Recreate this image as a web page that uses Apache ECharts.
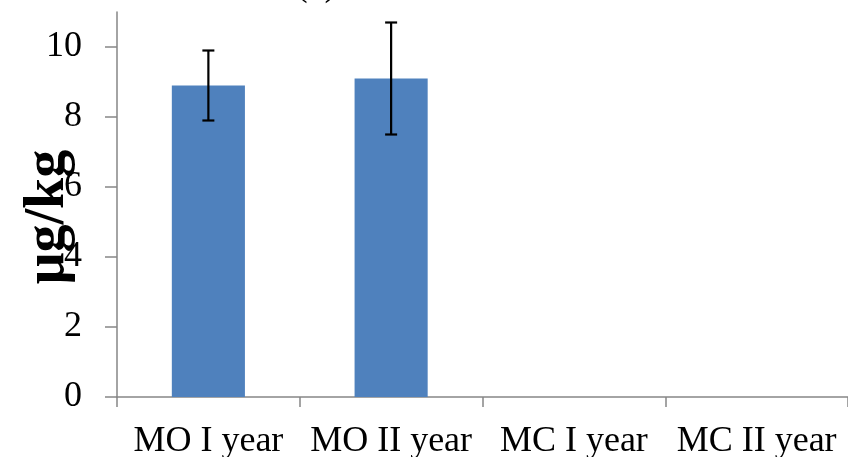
<!DOCTYPE html>
<html><head><meta charset="utf-8">
<script src="https://cdn.jsdelivr.net/npm/echarts@6/dist/echarts.min.js"></script>
<style>html,body{margin:0;padding:0;background:#fff}#c{width:848px;height:457px}</style>
</head><body><div id="c"></div>
<script>
var categories = ['MO I year', 'MO II year', 'MC I year', 'MC II year'];
var values = [8.9, 9.1, 0, 0];
var errors = [1.0, 1.6, 0, 0];
var yTicks = [0, 2, 4, 6, 8, 10];

var chart = echarts.init(document.getElementById('c'));
var serif = '"Liberation Serif", "DejaVu Serif", serif';
var axisColor = '#868686';
chart.setOption({
  animation: false,
  title: {text: '(a)', left: 290, top: -39, textStyle: {fontFamily: serif, fontSize: 38, fontWeight: 'normal', color: '#000'}},
  graphic: [{
    type: 'text', x: 49, y: 217, rotation: Math.PI / 2,
    style: {text: 'μg/kg', fontFamily: serif, fontSize: 56, fontWeight: 'bold', fill: '#000', align: 'center', verticalAlign: 'middle'}
  }],
  grid: {left: 117, right: 0, top: 12, bottom: 60, outerBoundsMode: 'none', containLabel: false},
  xAxis: {
    type: 'category', data: categories, boundaryGap: true,
    axisLine: {lineStyle: {color: axisColor, width: 1.5}},
    axisTick: {show: true, length: 10, alignWithLabel: false, lineStyle: {color: axisColor, width: 1.5}},
    axisLabel: {fontFamily: serif, fontSize: 36, color: '#000', margin: 27, interval: 0}
  },
  yAxis: {
    type: 'value', min: 0, max: 11,
    axisLine: {show: true, lineStyle: {color: axisColor, width: 1.5}},
    axisTick: {show: true, length: 12, customValues: yTicks, lineStyle: {color: axisColor, width: 1.5}},
    axisLabel: {fontFamily: serif, fontSize: 36, color: '#000', margin: 35, customValues: yTicks},
    splitLine: {show: false}
  },
  series: [
    {type: 'bar', data: values, barWidth: '40%', itemStyle: {color: '#4F81BD'}},
    {type: 'custom', data: values.map(function(v, i){return [i, v - errors[i], v + errors[i]];}),
     renderItem: function(params, api){
       if (errors[api.value(0)] === 0) return null;
       var lo = api.coord([api.value(0), api.value(1)]);
       var hi = api.coord([api.value(0), api.value(2)]);
       var w = 6;
       var st = {stroke: '#000', lineWidth: 2.2};
       return {type: 'group', children: [
         {type: 'line', shape: {x1: hi[0], y1: hi[1], x2: lo[0], y2: lo[1]}, style: st},
         {type: 'line', shape: {x1: hi[0]-w, y1: hi[1], x2: hi[0]+w, y2: hi[1]}, style: st},
         {type: 'line', shape: {x1: lo[0]-w, y1: lo[1], x2: lo[0]+w, y2: lo[1]}, style: st}
       ]};
     }, z: 10}
  ]
});
</script></body></html>
